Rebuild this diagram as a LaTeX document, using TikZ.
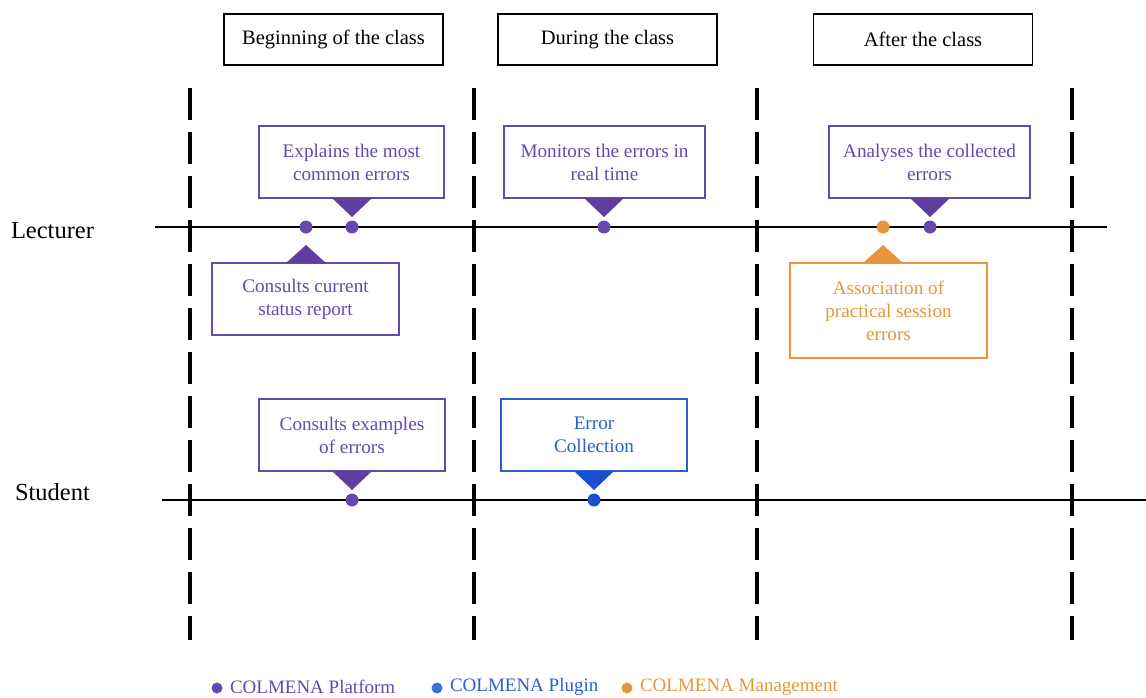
\documentclass[tikz,border=0pt]{standalone}
\usepackage{fontspec}
\setmainfont{Liberation Serif}
\definecolor{purp}{HTML}{6548B0}
\definecolor{purpd}{HTML}{5E3FA0}
\definecolor{blu}{HTML}{2A5FD0}
\definecolor{blud}{HTML}{1A4FCF}
\definecolor{blul}{HTML}{3373DB}
\definecolor{orn}{HTML}{E8963A}
\begin{document}
\begin{tikzpicture}[x=1pt,y=-1pt,
  every node/.style={font=\fontsize{19.2}{23}\selectfont, inner sep=0pt, outer sep=0pt},
  header/.style={draw=black, line width=1.3pt, minimum width=219pt, minimum height=51pt, align=center, font=\fontsize{20.5}{24}\selectfont},
  lane/.style={font=\fontsize{24.5}{28}\selectfont},
  evbox/.style={draw=#1, text=#1, line width=1.2pt, align=center},
  dotn/.style={circle, fill=#1, minimum size=13pt},
  vline/.style={line width=3.5pt, dash pattern=on 32pt off 12pt},
  hline/.style={line width=2pt},
  legdot/.style={circle, fill=#1, minimum size=11pt},
  legtext/.style={anchor=west, text=#1, font=\fontsize{19}{23}\selectfont}]
\useasboundingbox (0,0) rectangle (1146,697);
% headers
\node[header] (h1) at (333.5,39.5) {Beginning of the class};
\node[header] (h2) at (607.5,39.5) {During the class};
\node[header] (h3) at (923,39.5) {After the class};
% vertical dashed lines
\foreach \x/\n in {190/v1,474/v2,757/v3,1072/v4}{
  \coordinate (\n t) at (\x,88);
  \coordinate (\n b) at (\x,640);
  \draw[vline] (\n t) -- (\n b);
}
% lanes
\node[lane, anchor=west] (lec) at (11,231) {Lecturer};
\node[lane, anchor=west] (stu) at (15,492) {Student};
\coordinate (l1) at (155,227); \coordinate (l2) at (1107,227);
\coordinate (s1) at (162,500); \coordinate (s2) at (1146,500);
\draw[hline] (l1) -- (l2);
\draw[hline] (s1) -- (s2);
% boxes
\node[evbox=purp, minimum width=185pt, minimum height=72pt] (b1) at (351.5,162) {Explains the most\\common errors};
\node[evbox=purp, minimum width=187pt, minimum height=72pt] (b2) at (305.5,299) {Consults current\\status report};
\node[evbox=purp, minimum width=201pt, minimum height=72pt] (b3) at (604.5,162) {Monitors the errors in\\real time};
\node[evbox=purp, minimum width=201pt, minimum height=72pt] (b4) at (929.5,162) {Analyses the collected\\errors};
\node[evbox=orn, minimum width=197pt, minimum height=95pt] (b5) at (888.5,310.5) {Association of\\practical session\\errors};
\node[evbox=purp, minimum width=186pt, minimum height=72pt] (b6) at (352,435) {Consults examples\\of errors};
\node[evbox=blu, minimum width=186pt, minimum height=72pt] (b7) at (594,435) {Error\\Collection};
% dots
\node[dotn=purp] (d1) at (306,227) {};
\node[dotn=purp] (d2) at (352,227) {};
\node[dotn=purp] (d3) at (604,227) {};
\node[dotn=orn] (d4) at (883,227) {};
\node[dotn=purp] (d5) at (930,227) {};
\node[dotn=purp] (d6) at (352,500) {};
\node[dotn=blud] (d7) at (594,500) {};
% pointers
\fill[purpd] ([xshift=-20pt]b1.south -| d2) -- ([xshift=20pt]b1.south -| d2) -- ([yshift=3.5pt]d2.north) -- cycle;
\fill[purpd] ([xshift=-20pt]b2.north -| d1) -- ([xshift=20pt]b2.north -| d1) -- ([yshift=-11.5pt]d1.south) -- cycle;
\fill[purpd] ([xshift=-20pt]b3.south -| d3) -- ([xshift=20pt]b3.south -| d3) -- ([yshift=3.5pt]d3.north) -- cycle;
\fill[purpd] ([xshift=-20pt]b4.south -| d5) -- ([xshift=20pt]b4.south -| d5) -- ([yshift=3.5pt]d5.north) -- cycle;
\fill[orn] ([xshift=-20pt]b5.north -| d4) -- ([xshift=20pt]b5.north -| d4) -- ([yshift=-11.5pt]d4.south) -- cycle;
\fill[purpd] ([xshift=-20pt]b6.south -| d6) -- ([xshift=20pt]b6.south -| d6) -- ([yshift=3.5pt]d6.north) -- cycle;
\fill[blud] ([xshift=-20pt]b7.south -| d7) -- ([xshift=20pt]b7.south -| d7) -- ([yshift=3.5pt]d7.north) -- cycle;
% legend
\node[legdot=purp] (g1) at (217,688) {};
\node[legtext=purp] (t1) at (230,687) {COLMENA Platform};
\node[legdot=blul] (g2) at (437,688) {};
\node[legtext=blu] (t2) at (450,687) {COLMENA Plugin};
\node[legdot=orn] (g3) at (627,688) {};
\node[legtext=orn] (t3) at (640,687) {COLMENA Management};
\end{tikzpicture}
\end{document}
